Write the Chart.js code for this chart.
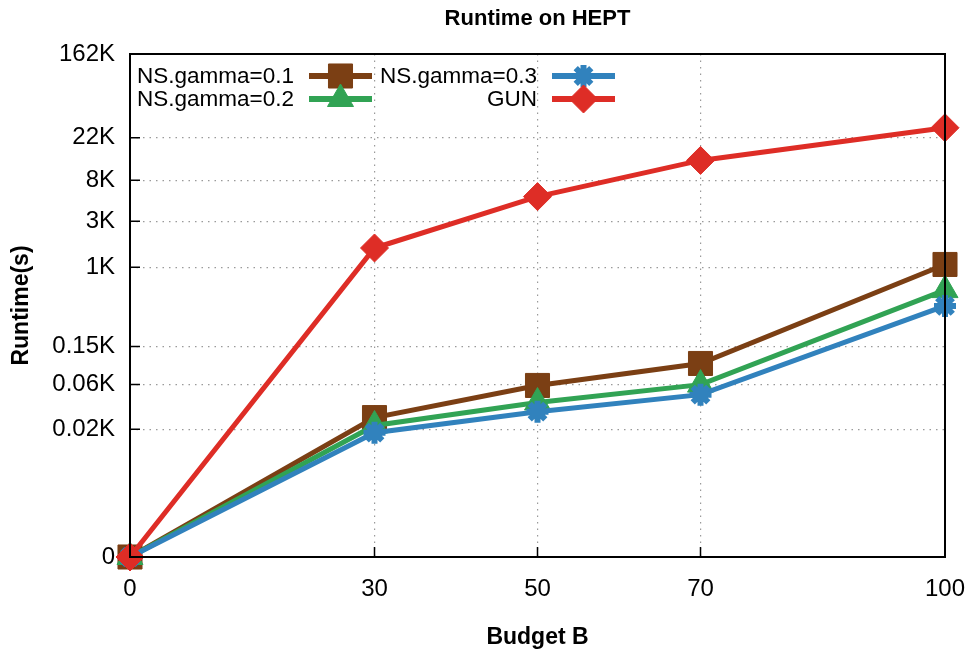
<!DOCTYPE html>
<html>
<head>
<meta charset="utf-8">
<title>Runtime on HEPT</title>
<script src="https://cdn.jsdelivr.net/npm/chart.js@4.4.1/dist/chart.umd.min.js"></script>
<style>
  html, body { margin: 0; padding: 0; background: #fff; }
  #wrap { width: 976px; height: 651px; position: relative; }
</style>
</head>
<body>
<div id="wrap"><canvas id="runtimeChart"></canvas></div>
<script>
// ข้อมูลที่อ่านจากกราฟ (วินาที)
const budgets = [0, 30, 50, 70, 100];
const nsGamma01 = [0, 26.8, 58.8, 100, 1070];
const nsGamma02 = [0, 22, 38.8, 60, 580];
const nsGamma03 = [0, 18.4, 31, 47, 397];
const gunTimes = [0, 1585, 5400, 12800, 27900];

const xTickValues = [0, 30, 50, 70, 100];
const yTickValues = [0, 20, 60, 150, 1000, 3000, 8000, 22000, 162000];
const yTickLabels = ['0', '0.02K', '0.06K', '0.15K', '1K', '3K', '8K', '22K', '162K'];

const chartTitle = 'Runtime on HEPT';
const FONT = "'Liberation Sans', Arial, sans-serif";

// แกน y เป็น log10(1 + t)
function toAxis(t) {
    return Math.log10(1 + t);
}

function makePoints(values) {
    return budgets.map((b, i) => ({ x: b, y: toAxis(values[i]) }));
}

function makeSeries(label, values, color, style, radius, pointBorder) {
    return {
        label: label,
        data: makePoints(values),
        borderColor: color,
        backgroundColor: color,
        borderWidth: 5,
        pointStyle: style,
        pointRadius: radius,
        pointHoverRadius: radius,
        pointBackgroundColor: color,
        pointBorderColor: color,
        pointBorderWidth: pointBorder,
        tension: 0,
        clip: false
    };
}

// ชื่อกราฟ: จัดกึ่งกลางเหนือพื้นที่กราฟ (แบบ gnuplot)
const titlePlugin = {
    id: 'plotTitle',
    afterDraw(chart) {
        const { ctx, chartArea: a } = chart;
        ctx.save();
        ctx.font = 'bold 22px ' + FONT;
        ctx.fillStyle = '#000';
        ctx.textAlign = 'center';
        ctx.textBaseline = 'middle';
        ctx.fillText(chartTitle, (a.left + a.right) / 2, 19);
        ctx.restore();
    }
};

// วาดกรอบ + ขีด tick ด้านใน
const framePlugin = {
    id: 'frame',
    afterDatasetsDraw(chart) {
        const { ctx, chartArea: a, scales } = chart;
        ctx.save();
        ctx.strokeStyle = '#000';
        ctx.lineWidth = 1.5;
        ctx.beginPath();
        scales.x.ticks.forEach(t => {
            const px = scales.x.getPixelForValue(t.value);
            ctx.moveTo(px, a.bottom);
            ctx.lineTo(px, a.bottom - 10);
        });
        scales.y.ticks.forEach(t => {
            const py = scales.y.getPixelForValue(t.value);
            ctx.moveTo(a.left, py);
            ctx.lineTo(a.left + 10, py);
        });
        ctx.stroke();
        ctx.lineWidth = 2;
        ctx.strokeRect(a.left, a.top, a.right - a.left, a.bottom - a.top);
        ctx.restore();
    }
};

// legend แบบ gnuplot: ข้อความชิดขวา ตามด้วยเส้นตัวอย่าง
const keyPlugin = {
    id: 'gnuKey',
    afterDraw(chart) {
        const { ctx, chartArea: a } = chart;
        const entries = [
            { label: 'NS.gamma=0.1', col: 0, row: 0 },
            { label: 'NS.gamma=0.3', col: 1, row: 0 },
            { label: 'NS.gamma=0.2', col: 0, row: 1 },
            { label: 'GUN', col: 1, row: 1 }
        ];
        ctx.save();
        ctx.font = '22.5px ' + FONT;
        ctx.textAlign = 'right';
        ctx.textBaseline = 'middle';
        entries.forEach(e => {
            const ds = chart.data.datasets.find(d => d.label === e.label);
            const textRight = a.left + 164 + e.col * 243;
            const y = a.top + 22 + e.row * 23;
            const x0 = textRight + 15;
            const x1 = x0 + 63;
            ctx.fillStyle = '#000';
            ctx.fillText(e.label, textRight, y + 1);
            ctx.strokeStyle = ds.borderColor;
            ctx.lineWidth = 6;
            ctx.beginPath();
            ctx.moveTo(x0, y);
            ctx.lineTo(x1, y);
            ctx.stroke();
            if (Chart.helpers && Chart.helpers.drawPoint) {
                ctx.fillStyle = ds.pointBackgroundColor;
                ctx.strokeStyle = ds.pointBorderColor;
                ctx.lineWidth = ds.pointBorderWidth;
                Chart.helpers.drawPoint(ctx, {
                    pointStyle: ds.pointStyle,
                    radius: ds.pointRadius,
                    rotation: 0,
                    borderWidth: ds.pointBorderWidth
                }, (x0 + x1) / 2, y);
            }
        });
        ctx.restore();
    }
};

const ctx = document.getElementById('runtimeChart').getContext('2d');

new Chart(ctx, {
    type: 'line',
    data: {
        datasets: [
            makeSeries('GUN', gunTimes, '#de2d26', 'rectRot', 14, 1),
            makeSeries('NS.gamma=0.3', nsGamma03, '#3182bd', 'star', 11, 6),
            makeSeries('NS.gamma=0.2', nsGamma02, '#31a354', 'triangle', 15, 1),
            makeSeries('NS.gamma=0.1', nsGamma01, '#7b3f14', 'rect', 17, 1)
        ]
    },
    options: {
        responsive: true,
        maintainAspectRatio: false,
        animation: false,
        layout: { padding: { top: 54, right: 31, bottom: 0, left: 0 } },
        plugins: {
            legend: { display: false },
            tooltip: { enabled: false },
            title: { display: false }
        },
        scales: {
            x: {
                type: 'linear',
                min: 0,
                max: 100,
                afterBuildTicks: scale => {
                    scale.ticks = xTickValues.map(v => ({ value: v }));
                },
                afterFit: scale => {
                    scale.height = 94;
                    scale.paddingLeft = 0;
                    scale.paddingRight = 0;
                },
                ticks: {
                    color: '#000',
                    padding: 18,
                    maxRotation: 0,
                    font: { family: FONT, size: 24 }
                },
                grid: {
                    color: '#9a9a9a',
                    lineWidth: 1.2,
                    drawTicks: false
                },
                border: { display: false, dash: [1.5, 5] },
                title: {
                    display: true,
                    text: 'Budget B',
                    color: '#000',
                    font: { family: FONT, size: 23, weight: 'bold' },
                    padding: { top: 3, bottom: 0 }
                }
            },
            y: {
                type: 'linear',
                min: 0,
                max: toAxis(yTickValues[yTickValues.length - 1]),
                afterBuildTicks: scale => {
                    scale.ticks = yTickValues.map(v => ({ value: toAxis(v) }));
                },
                afterFit: scale => { scale.width = 130; },
                ticks: {
                    color: '#000',
                    padding: 15,
                    font: { family: FONT, size: 24 },
                    callback: (value, index) => yTickLabels[index]
                },
                grid: {
                    color: '#9a9a9a',
                    lineWidth: 1.2,
                    drawTicks: false
                },
                border: { display: false, dash: [1.5, 5] },
                title: {
                    display: true,
                    text: 'Runtime(s)',
                    color: '#000',
                    font: { family: FONT, size: 23, weight: 'bold' },
                    padding: { top: 8, bottom: 0 }
                }
            }
        }
    },
    plugins: [framePlugin, keyPlugin, titlePlugin]
});
</script>
</body>
</html>
